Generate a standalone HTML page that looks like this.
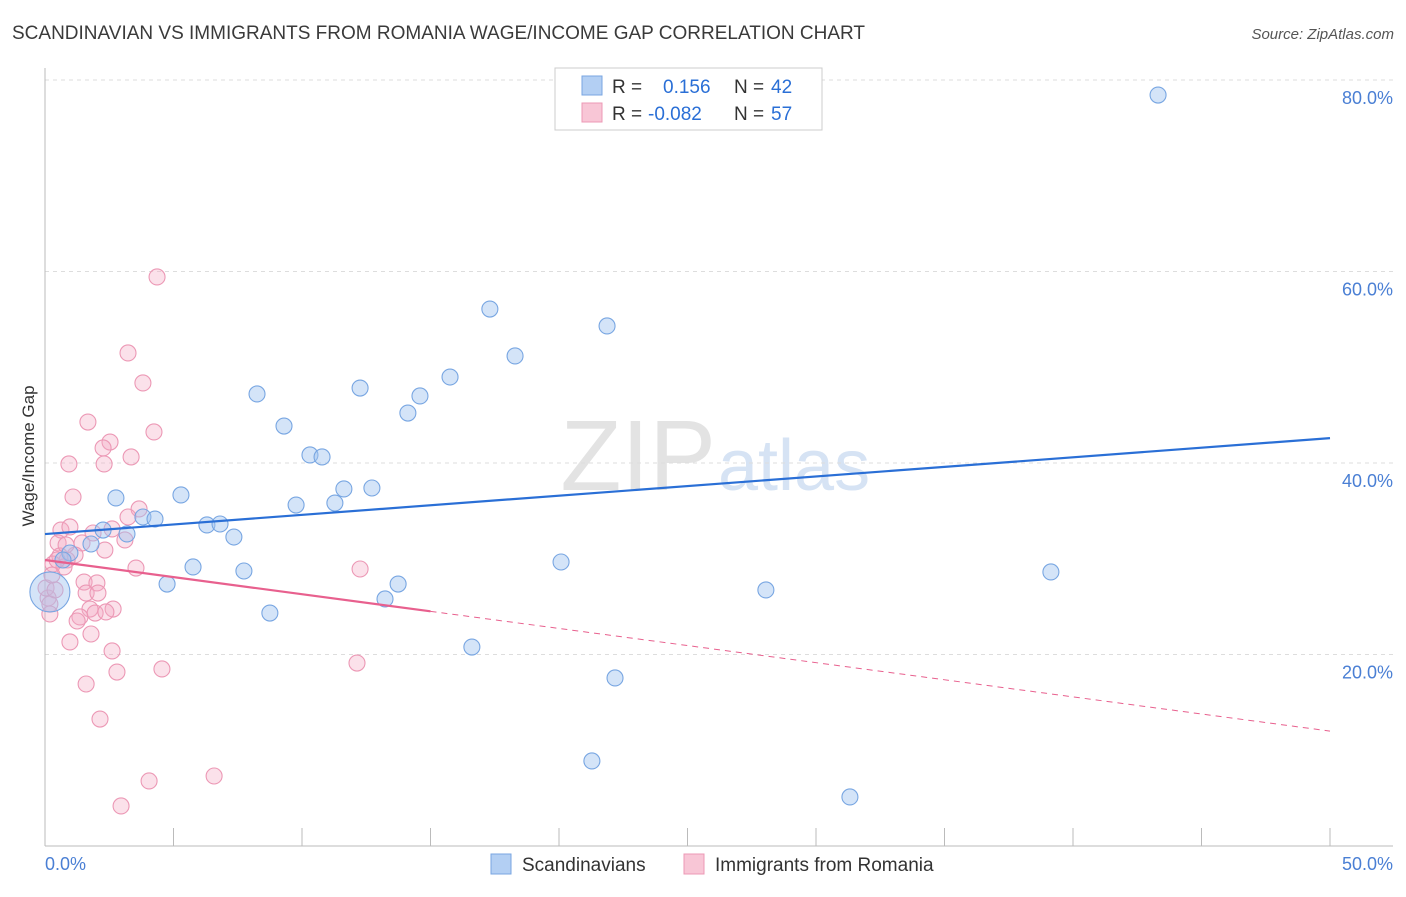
<!DOCTYPE html>
<html><head><meta charset="utf-8"><style>
body{margin:0;background:#fff;font-family:"Liberation Sans",sans-serif}
svg text{font-family:"Liberation Sans",sans-serif}
</style></head><body>
<svg id="c" width="1406" height="892"></svg>
<script>
const blueX=[43.31,17.31,21.87,18.29,15.76,12.26,8.25,14.59,14.12,9.30,10.31,10.78,11.63,12.72,5.29,2.76,9.77,11.28,3.81,4.28,6.30,6.81,7.35,3.19,2.26,1.79,0.97,20.08,5.76,7.74,39.14,4.75,13.74,13.23,28.05,8.75,16.61,22.18,21.28,31.32,0.19,0.70];
const blueY=[78.43,56.08,54.31,51.18,48.98,47.83,47.21,47.0,45.22,43.86,40.84,40.63,37.29,37.39,36.66,36.35,35.61,35.82,34.36,34.15,33.53,33.63,32.27,32.59,33.0,31.54,30.6,29.66,29.14,28.72,28.62,27.36,27.36,25.8,26.74,24.33,20.78,17.55,8.88,5.12,26.53,29.87];
const pinkX=[4.36,3.23,3.81,1.67,4.24,2.53,2.26,3.35,0.93,2.30,1.09,3.66,3.23,0.62,0.97,1.87,2.61,3.11,0.51,1.44,2.33,0.58,1.17,0.86,0.31,0.74,3.54,12.26,1.52,2.02,1.60,2.06,0.12,0.19,1.75,2.65,1.95,2.37,1.36,1.25,0.19,1.79,0.97,2.61,4.55,2.80,12.14,1.60,2.14,4.05,6.58,2.96,0.47,0.04,0.39,0.82,0.27];
const pinkY=[59.43,51.49,48.36,44.28,43.24,42.19,41.57,40.63,39.90,39.90,36.45,35.20,34.36,33.0,33.32,32.69,33.11,31.96,31.65,31.65,30.91,30.29,30.39,29.87,29.45,29.14,29.03,28.93,27.57,27.47,26.42,26.42,25.90,25.27,24.75,24.75,24.33,24.44,23.92,23.50,24.23,22.14,21.31,20.37,18.49,18.17,19.11,16.92,13.26,6.79,7.31,4.18,29.87,26.95,26.74,31.44,28.30];
const yTicks=[20,40,60,80];
const xTickLabels=["0.0%","50.0%"];
const blueTrend=[32.58,42.6];
const pinkTrend=[29.87,12.0];
const pinkSolidEnd=15;

const NS="http://www.w3.org/2000/svg";
const svg=document.getElementById('c');
const X=v=>45+v/50*1285, Y=v=>846-v*9.575;
function mk(t,a,txt){const e=document.createElementNS(NS,t);for(const k in a)e.setAttribute(k,a[k]);if(txt!=null)e.textContent=txt;svg.appendChild(e);return e;}
let e;
e=mk('text',{x:12,y:39,'font-size':19,fill:'#3a3a3a'},'SCANDINAVIAN VS IMMIGRANTS FROM ROMANIA WAGE/INCOME GAP CORRELATION CHART');

e=mk('text',{x:1394,y:39,'font-size':15,fill:'#555','text-anchor':'end','font-style':'italic'},'Source: ZipAtlas.com');

e=mk('text',{x:716,y:490,'font-size':100,fill:'#e3e3e3','text-anchor':'end','font-family':'Liberation Serif'},'ZIP');

e=mk('text',{x:718,y:490,'font-size':72,fill:'#d6e3f4'},'atlas');

yTicks.forEach(t=>{
 e=mk('line',{x1:45,y1:Y(t),x2:1393,y2:Y(t),stroke:'#ddd','stroke-dasharray':'4,4'});
 
 e=mk('text',{x:1393,y:Y(t)+24,'font-size':18,fill:'#4a7fd4','text-anchor':'end'},t.toFixed(1)+'%');
 
});
e=mk('line',{x1:45,y1:68,x2:45,y2:846,stroke:'#bbb'});
e=mk('line',{x1:45,y1:846,x2:1393,y2:846,stroke:'#bbb'});
for(let i=0;i<=10;i++){e=mk('line',{x1:X(i*5),y1:828,x2:X(i*5),y2:846,stroke:'#bbb'});}
e=mk('text',{x:45,y:870,'font-size':18,fill:'#4a7fd4'},xTickLabels[0]);
e=mk('text',{x:1393,y:870,'font-size':18,fill:'#4a7fd4','text-anchor':'end'},xTickLabels[1]);
e=mk('text',{x:34,y:456,'font-size':17,fill:'#333','text-anchor':'middle',transform:'rotate(-90 34 456)'},'Wage/Income Gap');

pinkX.forEach((v,i)=>{e=mk('circle',{cx:X(v),cy:Y(pinkY[i]),r:8,fill:'rgba(244,170,195,0.35)',stroke:'#ec98b5','stroke-width':1.1});
 });
blueX.forEach((v,i)=>{e=mk('circle',{cx:X(v),cy:Y(blueY[i]),r:i==40?20:8,fill:'rgba(160,196,240,0.45)',stroke:'#78a6e2','stroke-width':1.1});
 });
e=mk('line',{x1:X(0),y1:Y(blueTrend[0]),x2:X(50),y2:Y(blueTrend[1]),stroke:'#2a6fd6','stroke-width':2.2});

const pm=pinkTrend[0]+(pinkTrend[1]-pinkTrend[0])*pinkSolidEnd/50;
e=mk('line',{x1:X(0),y1:Y(pinkTrend[0]),x2:X(pinkSolidEnd),y2:Y(pm),stroke:'#e8608e','stroke-width':2.2});

e=mk('line',{x1:X(pinkSolidEnd),y1:Y(pm),x2:X(50),y2:Y(pinkTrend[1]),stroke:'#e8608e','stroke-width':1,'stroke-dasharray':'6,5'});

e=mk('rect',{x:555,y:68,width:267,height:62,fill:'#fff',stroke:'#ccc'});
mk('rect',{x:582,y:76,width:20,height:19,fill:'#b3cff3',stroke:'#78a6e2'});
mk('rect',{x:582,y:103,width:20,height:19,fill:'#f8c6d6',stroke:'#ec98b5'});
e=mk('text',{x:612,y:93,'font-size':19,fill:'#333'},'R = ');
mk('text',{x:663,y:93,'font-size':19,fill:'#2a6fd6'},'0.156');
mk('text',{x:734,y:93,'font-size':19,fill:'#333'},'N =');
mk('text',{x:771,y:93,'font-size':19,fill:'#2a6fd6'},'42');
e=mk('text',{x:612,y:120,'font-size':19,fill:'#333'},'R = ');
mk('text',{x:648,y:120,'font-size':19,fill:'#2a6fd6'},'-0.082');
mk('text',{x:734,y:120,'font-size':19,fill:'#333'},'N =');
mk('text',{x:771,y:120,'font-size':19,fill:'#2a6fd6'},'57');
e=mk('rect',{x:491,y:854,width:20,height:20,fill:'#b3cff3',stroke:'#78a6e2'});
mk('text',{x:522,y:871,'font-size':19,fill:'#333'},'Scandinavians');
e=mk('rect',{x:684,y:854,width:20,height:20,fill:'#f8c6d6',stroke:'#ec98b5'});
mk('text',{x:715,y:871,'font-size':19,fill:'#333'},'Immigrants from Romania');
</script>
</body></html>
